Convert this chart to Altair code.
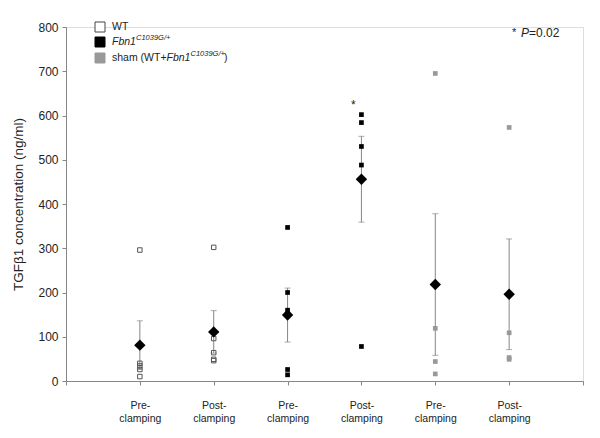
import altair as alt
import pandas as pd

# ---- data ----
group_pos = [1, 2, 3, 4, 5, 6]
group_labels = ["Pre-|clamping", "Post-|clamping", "Pre-|clamping",
                "Post-|clamping", "Pre-|clamping", "Post-|clamping"]

wt_pre = [296, 40, 34, 26, 10]
wt_post = [302, 96, 64, 49, 46]
fbn_pre = [347, 200, 160, 26, 14]
fbn_post = [602, 584, 530, 488, 78]
sham_pre = [695, 119, 44, 16]
sham_post = [573, 109, 53, 49]

means = [81, 111, 149, 456, 218, 196]
sems = [55, 48, 61, 97, 160, 125]

FONT = "Liberation Sans"
AXIS_GREY = "#868686"

rows = []
for g, vals, series in [(1, wt_pre, "WT"), (2, wt_post, "WT"),
                        (3, fbn_pre, "Fbn1"), (4, fbn_post, "Fbn1"),
                        (5, sham_pre, "sham"), (6, sham_post, "sham")]:
    for v in vals:
        rows.append({"pos": g, "value": v, "series": series})
pts = pd.DataFrame(rows)

summ = pd.DataFrame({
    "pos": group_pos,
    "mean": means,
    "lo": [m - s for m, s in zip(means, sems)],
    "hi": [m + s for m, s in zip(means, sems)],
})

# build label expression: split the matching label on '|' into two lines
label_expr = "''"
for p, l in reversed(list(zip(group_pos, group_labels))):
    label_expr = f"datum.value == {p} ? split('{l}', '|') : ({label_expr})"

x_scale = alt.Scale(domain=[0, 7], nice=False, zero=False)
y_scale = alt.Scale(domain=[0, 800], nice=False)

x_axis = alt.Axis(values=list(range(0, 8)), labelExpr=label_expr, title=None,
                  grid=False, domainColor=AXIS_GREY, tickColor=AXIS_GREY,
                  tickSize=4, labelFont=FONT, labelFontSize=10.5,
                  labelColor="#222222", labelPadding=15, labelLineHeight=13.5,
                  labelBaseline="top")
y_axis = alt.Axis(values=list(range(0, 801, 100)), title="TGFβ1 concentration (ng/ml)",
                  grid=False, domainColor=AXIS_GREY, tickColor=AXIS_GREY,
                  tickSize=4, labelFont=FONT, labelFontSize=12, labelColor="#222222",
                  labelPadding=4, titleFont=FONT, titleFontSize=13.5,
                  titleFontWeight="normal", titleColor="#222222", titlePadding=12)

base_x = alt.X("pos:Q", scale=x_scale, axis=x_axis)

errbar = alt.Chart(summ).mark_rule(color=AXIS_GREY, strokeWidth=1).encode(
    x=base_x,
    y=alt.Y("lo:Q", scale=y_scale, axis=y_axis),
    y2="hi:Q",
)
cap_lo = alt.Chart(summ).mark_tick(color=AXIS_GREY, size=6, thickness=1,
                                   orient="horizontal").encode(
    x=alt.X("pos:Q", scale=x_scale), y=alt.Y("lo:Q", scale=y_scale))
cap_hi = alt.Chart(summ).mark_tick(color=AXIS_GREY, size=6, thickness=1,
                                   orient="horizontal").encode(
    x=alt.X("pos:Q", scale=x_scale), y=alt.Y("hi:Q", scale=y_scale))

wt_pts = alt.Chart(pts[pts.series == "WT"]).mark_point(
    shape="square", size=20, filled=False, color="#555555", strokeWidth=1,
    opacity=1).encode(x=alt.X("pos:Q", scale=x_scale), y=alt.Y("value:Q", scale=y_scale))
fbn_pts = alt.Chart(pts[pts.series == "Fbn1"]).mark_point(
    shape="square", size=22, filled=True, color="#000000",
    opacity=1).encode(x=alt.X("pos:Q", scale=x_scale), y=alt.Y("value:Q", scale=y_scale))
sham_pts = alt.Chart(pts[pts.series == "sham"]).mark_point(
    shape="square", size=22, filled=True, color="#999999",
    opacity=1).encode(x=alt.X("pos:Q", scale=x_scale), y=alt.Y("value:Q", scale=y_scale))

mean_pts = alt.Chart(summ).mark_point(
    shape="diamond", size=130, filled=True, color="#000000", opacity=1).encode(
    x=alt.X("pos:Q", scale=x_scale), y=alt.Y("mean:Q", scale=y_scale))

# significance star over Fbn1 post-clamping
star_df = pd.DataFrame({"pos": [4], "value": [624], "t": ["*"]})
star = alt.Chart(star_df).mark_text(font=FONT, fontSize=12, dx=-8, color="#222222").encode(
    x=alt.X("pos:Q", scale=x_scale), y=alt.Y("value:Q", scale=y_scale), text="t:N")

one = pd.DataFrame({"a": [0]})


def txt(t, x, y, size=10.5, style="normal", align="left"):
    return alt.Chart(one).mark_text(text=t, font=FONT, fontSize=size, fontStyle=style,
                                    align=align, baseline="middle",
                                    color="#222222").encode(x=alt.value(x), y=alt.value(y))


def sq(y, fill, stroke):
    return alt.Chart(one).mark_point(shape="square", size=100, filled=True, fill=fill,
                                     stroke=stroke, strokeWidth=1, opacity=1).encode(
        x=alt.value(34), y=alt.value(y))


legend = [
    sq(0, "#ffffff", "#444444"), txt("WT", 46, 0),
    sq(15, "#000000", "#000000"), txt("Fbn1", 46, 15, style="italic"),
    txt("C1039G/+", 70, 11, size=7.5, style="italic"),
    sq(31, "#999999", "#999999"), txt("sham (WT+", 46, 31),
    txt("Fbn1", 100.5, 31, style="italic"),
    txt("C1039G/+", 124.5, 27, size=7.5, style="italic"),
    txt(")", 158, 31),
]

pval = [txt("*", 446, 6, size=11), txt("P", 455, 6, size=12, style="italic"),
        txt("=0.02", 463, 6, size=12)]

chart = alt.layer(errbar, cap_lo, cap_hi, wt_pts, fbn_pts, sham_pts, mean_pts, star,
                  *legend, *pval).properties(
    width=517, height=354,
    autosize=alt.AutoSizeParams(type="none"),
    padding={"left": 58, "top": 19, "right": 9, "bottom": 49},
).configure_view(stroke=None).configure(background="white")

chart.save("out.html", embed_options={"renderer": "svg", "actions": False})
